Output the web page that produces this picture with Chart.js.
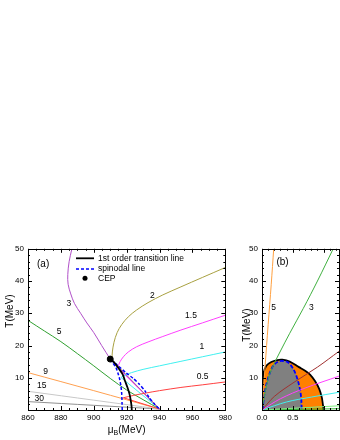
<!DOCTYPE html>
<html>
<head>
<meta charset="utf-8">
<script src="https://cdn.jsdelivr.net/npm/chart.js@4.4.0/dist/chart.umd.min.js"></script>
<style>
  html, body { margin: 0; padding: 0; background: #fff; overflow: hidden; width: 340px; height: 440px; }
  #chartA { position: absolute; left: 0; top: 240px; }
  #chartB { position: absolute; left: 240px; top: 240px; }
</style>
</head>
<body>
<canvas id="chartA" width="235" height="200"></canvas>
<canvas id="chartB" width="102" height="200"></canvas>
<script>
// ---- panel (a): T vs mu_B ----
const s30Mu = [860, 940];                 const s30T = [2.6, 0.3];
const s15Mu = [860, 940];                 const s15T = [5.8, 0.3];
const s9Mu  = [860, 900, 940];            const s9T  = [11.6, 6.0, 0.3];
const s5Mu  = [860, 870, 880, 890, 900, 910, 920, 930, 940];
const s5T   = [27.8, 24.5, 21.2, 17.5, 13.7, 9.8, 6.2, 3.2, 0.3];
const s3Mu  = [886.7, 885, 884.2, 884.4, 886, 888.3, 892, 895.8, 900, 904.8, 910];
const s3T   = [50, 46, 42, 39, 36, 33, 30, 27, 24, 20, 15.8];
const s2Mu  = [911, 911.3, 912.3, 914.2, 917, 921, 926, 933, 942, 953, 966, 980];
const s2T   = [15.5, 18, 21, 24, 26.5, 28.9, 31, 33.3, 35.7, 38.2, 41.1, 44.2];
const s15hMu = [914.5, 916, 918, 921, 926, 933, 942, 953, 966, 980];
const s15hT  = [13.2, 15, 16.5, 18, 19.6, 21.1, 22.8, 24.8, 27, 29.4];
const s1Mu  = [916.5, 919, 923, 930, 940, 953, 966, 980];
const s1T   = [10.1, 10.8, 11.6, 12.6, 13.7, 15.1, 16.5, 18];
const s05Mu = [918, 924, 931, 940, 953, 966, 980];
const s05T  = [3.8, 4.5, 5.2, 6, 7, 7.8, 8.7];
// branches inside the mixed phase (start points, all end at mixEnd)
const mixMu = [910, 911, 914.5, 916.5, 918];
const mixT  = [15.8, 15.5, 13.2, 10.1, 3.8];
const mixEnd = [940, 0.3];
const firstMu = [910, 912.5, 915, 917.5, 919, 920.5, 921.7, 922.5, 923, 923.1];
const firstT  = [15.8, 14.7, 13, 11.1, 9, 7, 5, 2.9, 1, 0];
const spinMu = [917.3, 917.2, 917, 916.5, 915.5, 913.5, 911.5, 910, 913.5, 919.5, 924, 927.5, 931, 933.6, 937, 940];
const spinT  = [0, 2, 5, 7.5, 10.1, 13.2, 14.7, 15.8, 14.3, 11.6, 9.8, 8.1, 6, 3.9, 1.8, 0.2];
const cepMu = [910];
const cepT  = [15.8];
const labelsA   = ['(a)', '3', '5', '9', '15', '30', '2', '1.5', '1', '0.5'];
const labelsAMu = [869.2, 884.9, 878.9, 870.7, 868.3, 866.8, 935.6, 959.1, 965.7, 966.2];
const labelsAT  = [45.3, 33.1, 24.4, 12.0, 7.4, 3.5, 35.4, 29.3, 19.7, 10.2];

// ---- panel (b): T vs density ----
const bFirstX = [0, 0.01, 0.02, 0.07, 0.15, 0.25, 0.33, 0.45, 0.6, 0.7, 0.78, 0.86, 0.93, 0.97, 0.99, 1.0];
const bFirstT = [0, 6, 11, 13.7, 14.9, 15.5, 15.6, 15, 13.3, 12.2, 11, 9, 6.5, 4, 1.5, 0];
const bSpinX = [0.02, 0.02, 0.05, 0.1, 0.18, 0.26, 0.34, 0.42, 0.5, 0.567, 0.61, 0.635, 0.645];
const bSpinT = [0, 2, 6, 10, 13.7, 15, 15.2, 14.8, 13, 10.1, 7, 4, 0];
const b5X = [0, 0.05, 0.1, 0.15, 0.19];          const b5T = [0, 13.5, 26.5, 39, 50];
const b3X = [0, 0.05, 0.12, 0.2, 0.3, 0.45, 0.67, 0.9, 1.156];
const b3T = [0, 5.5, 11, 14.5, 18.3, 23.8, 31.5, 40, 50];
const bBrX = [0, 0.2, 0.52, 0.9, 1.25];          const bBrT = [0, 4.2, 8.6, 13.3, 18.2];
const bMgX = [0, 0.3, 0.7, 1.25];                const bMgT = [0, 3.5, 6.8, 10.5];
const bCyX = [0, 0.4, 0.8, 1.25];                const bCyT = [0, 2.5, 4, 5.5];
const bLgX = [0, 1.25];                          const bLgT = [0, 1.3];
const bGrX = [0, 1.25];                          const bGrT = [0, 0.4];
const labelsB  = ['(b)', '5', '3'];
const labelsBX = [0.333, 0.19, 0.8];
const labelsBT = [45.8, 31.8, 31.8];

const FONT = "'Liberation Sans', Arial, sans-serif";

function pts(xs, ys) { return xs.map((x, i) => ({ x: x, y: ys[i] })); }
function line(xs, ys, color, extra) {
  return Object.assign({ data: pts(xs, ys), borderColor: color, borderWidth: 1, pointRadius: 0,
    tension: 0.35, fill: false }, extra || {});
}

const deco = {
  id: 'deco',
  afterDraw(chart, args, o) {
    const ctx = chart.ctx, a = chart.chartArea, sx = chart.scales.x, sy = chart.scales.y;
    ctx.save();
    ctx.strokeStyle = '#000';
    ctx.lineWidth = 1;
    ctx.strokeRect(Math.round(a.left) + 0.5, Math.round(a.top) + 0.5,
      Math.round(a.right - a.left), Math.round(a.bottom - a.top));
    ctx.beginPath();
    const nx = Math.floor((sx.max - sx.min) / o.xMinor + 1e-6);
    for (let i = 0; i <= nx; i++) {
      const v = sx.min + i * o.xMinor;
      const len = Math.abs(v / o.xMajor - Math.round(v / o.xMajor)) < 1e-6 ? 4 : 2;
      const p = Math.round(sx.getPixelForValue(v)) + 0.5;
      ctx.moveTo(p, a.bottom); ctx.lineTo(p, a.bottom - len);
      ctx.moveTo(p, a.top); ctx.lineTo(p, a.top + len);
    }
    const ny = Math.floor((sy.max - sy.min) / o.yMinor + 1e-6);
    for (let i = 0; i <= ny; i++) {
      const v = sy.min + i * o.yMinor;
      const len = Math.abs(v / o.yMajor - Math.round(v / o.yMajor)) < 1e-6 ? 4 : 2;
      const p = Math.round(sy.getPixelForValue(v)) + 0.5;
      ctx.moveTo(a.left, p); ctx.lineTo(a.left + len, p);
      ctx.moveTo(a.right, p); ctx.lineTo(a.right - len, p);
    }
    ctx.stroke();

    ctx.fillStyle = '#000';
    ctx.textAlign = 'center';
    ctx.textBaseline = 'middle';
    o.labels.forEach((t, i) => {
      ctx.font = (t[0] === '(' ? '10px ' : '8.5px ') + FONT;
      ctx.fillText(t, sx.getPixelForValue(o.labelX[i]), sy.getPixelForValue(o.labelY[i]));
    });

    ctx.save();
    ctx.translate(o.yTitle[0], o.yTitle[1]);
    ctx.rotate(-Math.PI / 2);
    ctx.font = '10px ' + FONT;
    ctx.fillText('T(MeV)', 0, 0);
    ctx.restore();

    if (o.xTitle) {
      ctx.textAlign = 'left';
      ctx.font = '10px ' + FONT;
      const w1 = ctx.measureText('\u03bc').width;
      const w3 = ctx.measureText('(MeV)').width;
      ctx.font = '7px ' + FONT;
      const w2 = ctx.measureText('B').width;
      const x0 = (a.left + a.right) / 2 - (w1 + w2 + w3) / 2;
      const y0 = o.xTitle[1];
      ctx.font = '10px ' + FONT;
      ctx.fillText('\u03bc', x0, y0);
      ctx.font = '7px ' + FONT;
      ctx.fillText('B', x0 + w1, y0 + 3);
      ctx.font = '10px ' + FONT;
      ctx.fillText('(MeV)', x0 + w1 + w2, y0);
    }

    if (o.legend) {
      ctx.textAlign = 'left';
      ctx.font = '8.5px ' + FONT;
      const L = o.legend;
      ctx.strokeStyle = '#000'; ctx.lineWidth = 1.8;
      ctx.beginPath(); ctx.moveTo(L.x0, L.y[0]); ctx.lineTo(L.x1, L.y[0]); ctx.stroke();
      ctx.strokeStyle = '#0000ff'; ctx.lineWidth = 1.5; ctx.setLineDash([3, 2]);
      ctx.beginPath(); ctx.moveTo(L.x0, L.y[1]); ctx.lineTo(L.x1, L.y[1]); ctx.stroke();
      ctx.setLineDash([]);
      ctx.beginPath(); ctx.arc((L.x0 + L.x1) / 2, L.y[2], 2.5, 0, Math.PI * 2); ctx.fill();
      L.text.forEach((t, i) => ctx.fillText(t, L.tx, L.y[i]));
    }
    ctx.restore();
  }
};

function scaleOpts(min, max, step, fit, cb) {
  return {
    type: 'linear', min: min, max: max,
    ticks: { stepSize: step, color: '#000', font: { family: FONT, size: 8 }, padding: fit.pad,
      maxRotation: 0, autoSkip: false, callback: cb },
    grid: { display: false, drawTicks: false },
    border: { display: false },
    afterFit: fit.fn
  };
}

const hideZero = v => (v === 0 ? '' : v);
const mixColors = ['#b050c8', '#a8a040', '#ff40ff', '#40f0f0', '#ff4040'];

new Chart(document.getElementById('chartA'), {
  type: 'line',
  data: {
    datasets: [
      line(cepMu, cepT, '#000', { pointRadius: 3, pointBackgroundColor: '#000', showLine: false }),
      line(firstMu, firstT, '#000', { borderWidth: 1.8 }),
      line(spinMu, spinT, '#0000ff', { borderWidth: 1.5, borderDash: [3, 2], tension: 0.2 }),
      line(s3Mu, s3T, '#b050c8'),
      line(s2Mu, s2T, '#a8a040'),
      line(s15hMu, s15hT, '#ff40ff'),
      line(s1Mu, s1T, '#40f0f0'),
      line(s05Mu, s05T, '#ff4040')
    ].concat(mixMu.map((m, i) => line([m, mixEnd[0]], [mixT[i], mixEnd[1]], mixColors[i], { tension: 0 })))
     .concat([
      line(s5Mu, s5T, '#30a030'),
      line(s9Mu, s9T, '#ffa050'),
      line(s15Mu, s15T, '#c8c8c8'),
      line(s30Mu, s30T, '#909090')
    ])
  },
  options: {
    responsive: false,
    animation: false,
    devicePixelRatio: 1,
    layout: { padding: { top: 8, right: 8, left: 0, bottom: 0 } },
    scales: {
      x: scaleOpts(860, 980, 20, { pad: 3, fn: s => { s.height = 30; } }),
      y: scaleOpts(0, 50, 10, { pad: 4, fn: s => { s.width = 28; } }, hideZero)
    },
    plugins: {
      legend: { display: false },
      tooltip: { enabled: false },
      deco: {
        xMajor: 20, xMinor: 5, yMajor: 10, yMinor: 2,
        labels: labelsA, labelX: labelsAMu, labelY: labelsAT,
        yTitle: [10, 71],
        xTitle: [0, 190],
        legend: { x0: 76, x1: 94, tx: 98, y: [18.3, 29, 38.3],
          text: ['1st order transition line', 'spinodal line', 'CEP'] }
      }
    }
  },
  plugins: [deco]
});

new Chart(document.getElementById('chartB'), {
  type: 'line',
  data: {
    datasets: [
      line(b5X, b5T, '#ffa040'),
      line(b3X, b3T, '#40b040'),
      line(bBrX, bBrT, '#a03030'),
      line(bMgX, bMgT, '#ff40ff'),
      line(bCyX, bCyT, '#40f0f0'),
      line(bLgX, bLgT, '#80f080'),
      line(bGrX, bGrT, '#30b030'),
      line(bSpinX, bSpinT, '#0000ff', { borderWidth: 1.8, borderDash: [4, 2], fill: 'origin',
        backgroundColor: '#808080' }),
      line(bFirstX, bFirstT, '#000', { borderWidth: 1.8, fill: 'origin', backgroundColor: '#ff8000' })
    ]
  },
  options: {
    responsive: false,
    animation: false,
    devicePixelRatio: 1,
    layout: { padding: { top: 8, right: 0, left: 0, bottom: 0 } },
    scales: {
      x: scaleOpts(0, 1.25, 0.5, { pad: 3, fn: s => { s.height = 30; } },
        v => (Math.abs(v * 2 - Math.round(v * 2)) < 1e-9 ? v.toFixed(1) : '')),
      y: scaleOpts(0, 50, 10, { pad: 4, fn: s => { s.width = 22; } }, hideZero)
    },
    plugins: {
      legend: { display: false },
      tooltip: { enabled: false },
      deco: {
        xMajor: 0.5, xMinor: 0.1, yMajor: 10, yMinor: 2,
        labels: labelsB, labelX: labelsBX, labelY: labelsBT,
        yTitle: [7, 85]
      }
    }
  },
  plugins: [deco]
});
</script>
</body>
</html>
